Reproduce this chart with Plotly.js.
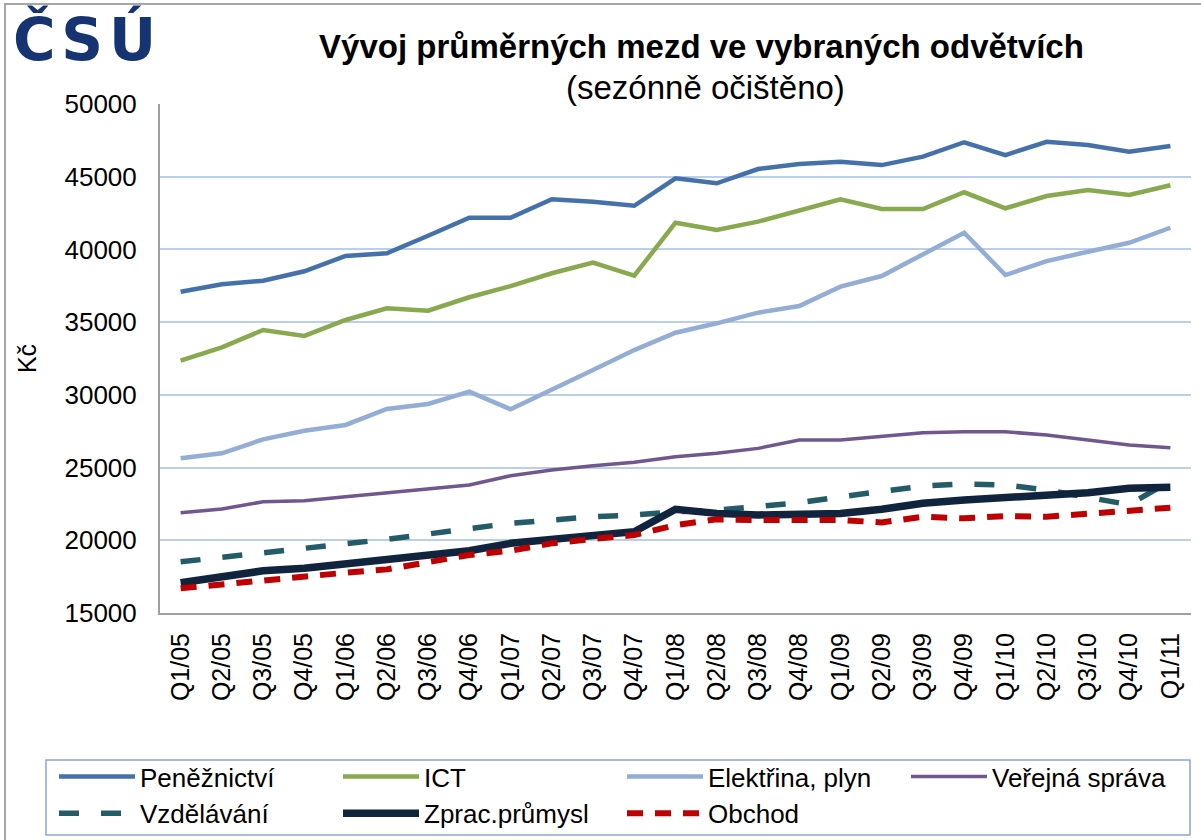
<!DOCTYPE html>
<html>
<head>
<meta charset="utf-8">
<script src="https://cdn.plot.ly/plotly-3.0.1.min.js"></script>
<style>
  html, body { margin: 0; padding: 0; background: #fff; overflow: hidden; }
  #frame { position: absolute; left: 4px; top: 3px; width: 1210px; height: 850px; border-left: 2px solid #a6a6a6; border-top: 2px solid #a6a6a6; box-sizing: border-box; pointer-events: none; z-index: 10; }
  #chart { position: absolute; left: 0; top: 0; width: 1201px; height: 840px; }
</style>
</head>
<body>
<div id="chart"></div>
<div id="frame"></div>
<script>
const quarters = ['Q1/05','Q2/05','Q3/05','Q4/05','Q1/06','Q2/06','Q3/06','Q4/06','Q1/07','Q2/07','Q3/07','Q4/07','Q1/08','Q2/08','Q3/08','Q4/08','Q1/09','Q2/09','Q3/09','Q4/09','Q1/10','Q2/10','Q3/10','Q4/10','Q1/11'];

const penezPrice = [37090, 37600, 37850, 38500, 39550, 39730, 40940, 42180, 42180, 43450, 43280, 43000, 44890, 44550, 45530, 45870, 46030, 45800, 46380, 47370, 46490, 47400, 47180, 46720, 47110];
const ictPrice = [32350, 33270, 34460, 34050, 35150, 35950, 35790, 36710, 37480, 38360, 39090, 38190, 41840, 41340, 41910, 42710, 43450, 42780, 42780, 43930, 42830, 43670, 44090, 43740, 44410];
const elekPrice = [25640, 25980, 26940, 27530, 27930, 29030, 29370, 30220, 29010, 30330, 31710, 33080, 34270, 34920, 35650, 36110, 37440, 38170, 39660, 41150, 38240, 39200, 39840, 40460, 41490];
const verejPrice = [21890, 22150, 22650, 22720, 22990, 23270, 23500, 23800, 24440, 24830, 25130, 25360, 25750, 25980, 26320, 26890, 26890, 27170, 27400, 27460, 27460, 27240, 26890, 26550, 26360];
const vzdelPrice = [18520, 18870, 19140, 19450, 19740, 20070, 20430, 20820, 21170, 21390, 21620, 21740, 21960, 22080, 22310, 22580, 22990, 23340, 23730, 23870, 23800, 23460, 22990, 22450, 24070];
const zpracPrice = [17080, 17450, 17900, 18070, 18370, 18690, 18920, 19280, 19790, 20090, 20310, 20590, 22130, 21850, 21740, 21740, 21850, 22130, 22540, 22770, 22930, 23040, 23270, 23570, 23640];
const obchodPrice = [16700, 16990, 17270, 17540, 17770, 18000, 18520, 18990, 19280, 19790, 20090, 20360, 21050, 21440, 21390, 21390, 21390, 21230, 21620, 21510, 21670, 21620, 21800, 22080, 22240];

const seriesNames = ['Peněžnictví', 'ICT', 'Elektřina, plyn', 'Veřejná správa', 'Vzdělávání', 'Zprac.průmysl', 'Obchod'];
const titleText = 'Vývoj průměrných mezd ve vybraných odvětvích';
const subtitleText = '(sezónně očištěno)';
const yTitle = 'Kč';
const logoText = 'Č\u200AS\u200AÚ';

const FONT = 'Liberation Sans, Arial, sans-serif';

// plot-area geometry in pixels (used only to place title, logo and legend frame)
const W = 1201, H = 840, ML = 160, MR = 10, MT = 104, MB = 227;
const PW = W - ML - MR, PH = H - MT - MB;
const px = v => (v - ML) / PW;
const py = v => (H - MB - v) / PH;

function tr(name, y, color, width, dash) {
  return {
    type: 'scatter', mode: 'lines', name: name, x: quarters, y: y,
    line: { color: color, width: width, dash: dash || 'solid' },
    hoverinfo: 'x+y+name'
  };
}

const data = [
  tr(seriesNames[0], penezPrice, '#4471aa', 4.5),
  tr(seriesNames[1], ictPrice, '#88a94d', 4.5),
  tr(seriesNames[2], elekPrice, '#93add5', 4.5),
  tr(seriesNames[3], verejPrice, '#70578f', 3.5),
  tr(seriesNames[4], vzdelPrice, '#235c68', 5.5, '20px,22px'),
  tr(seriesNames[5], zpracPrice, '#11243d', 7.5),
  tr(seriesNames[6], obchodPrice, '#c00000', 6, '16px,12px')
];

const layout = {
  width: W, height: H,
  margin: { l: ML, r: MR, t: MT, b: MB, autoexpand: false },
  paper_bgcolor: '#ffffff', plot_bgcolor: '#ffffff',
  font: { family: FONT, color: '#000000', size: 25 },
  showlegend: true,
  xaxis: {
    type: 'category', range: [-0.5, 24.5],
    showgrid: false, zeroline: false,
    showline: true, linecolor: '#a0a0a0', linewidth: 2,
    ticks: '', ticklabelstandoff: 8,
    tickangle: -90, tickfont: { family: FONT, size: 25, color: '#000' },
    fixedrange: true
  },
  yaxis: {
    range: [15000, 50000], dtick: 5000, tick0: 15000,
    showgrid: true, gridcolor: '#bccfea', gridwidth: 1.5,
    zeroline: false,
    showline: true, linecolor: '#a0a0a0', linewidth: 2,
    ticks: '', ticklabelstandoff: 16,
    tickfont: { family: FONT, size: 26, color: '#000' },
    tickformat: 'd',
    title: { text: yTitle, font: { family: FONT, size: 25, color: '#000' }, standoff: 21 },
    fixedrange: true
  },
  title: {
    text: '<b>' + titleText + '</b>',
    font: { family: FONT, size: 33, color: '#000' },
    x: 701.5 / W, xanchor: 'center', xref: 'container',
    y: 1 - 46 / H, yanchor: 'middle', yref: 'container'
  },
  annotations: [
    {
      text: subtitleText, xref: 'paper', yref: 'paper',
      x: px(705), y: py(88), xanchor: 'center', yanchor: 'middle',
      showarrow: false, font: { family: FONT, size: 33, color: '#000' }
    },
    {
      text: '<b>' + logoText + '</b>', xref: 'paper', yref: 'paper',
      x: px(11), y: py(39), xanchor: 'left', yanchor: 'middle',
      showarrow: false, font: { family: 'DejaVu Sans', size: 58, color: '#173472' }
    }
  ],
  shapes: [
    {
      type: 'rect', xref: 'paper', yref: 'paper',
      x0: px(46), x1: px(1190), y0: py(835), y1: py(760),
      line: { color: '#8aa6cf', width: 1.5 }, fillcolor: 'rgba(0,0,0,0)', layer: 'below'
    }
  ],
  legend: {
    orientation: 'h',
    x: px(54), xanchor: 'left', xref: 'paper',
    y: py(753), yanchor: 'top', yref: 'paper',
    borderwidth: 0, bgcolor: 'rgba(0,0,0,0)',
    font: { family: FONT, size: 26, color: '#000' },
    itemwidth: 76, entrywidth: 193, entrywidthmode: 'pixels',
    traceorder: 'normal', tracegroupgap: 0
  }
};

Plotly.newPlot('chart', data, layout, { displayModeBar: false });
</script>
</body>
</html>
